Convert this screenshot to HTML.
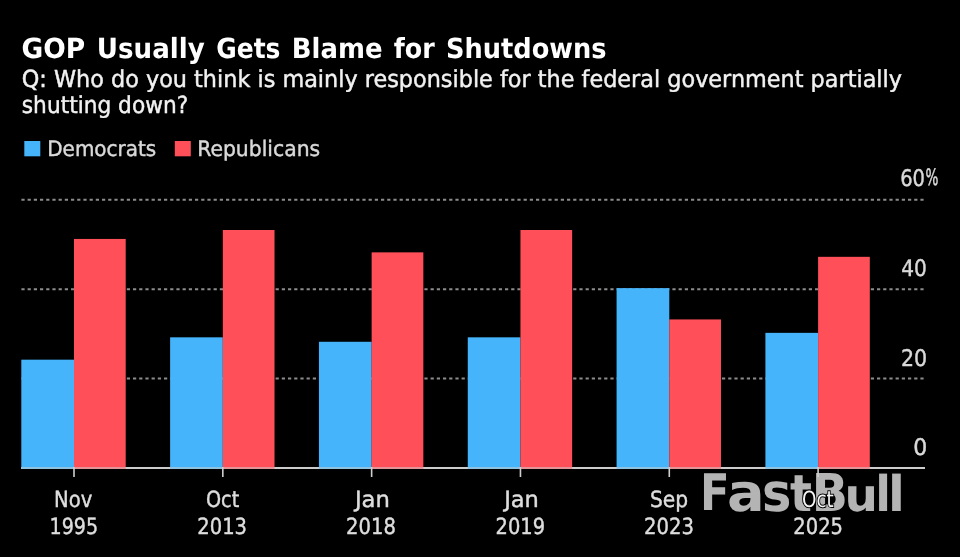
<!DOCTYPE html>
<html><head><meta charset="utf-8"><title>GOP Usually Gets Blame for Shutdowns</title>
<style>html,body{margin:0;padding:0;background:#000;width:960px;height:557px;overflow:hidden}svg{display:block;will-change:transform;text-rendering:geometricPrecision}</style>
</head><body>
<svg width="960" height="557" viewBox="0 0 960 557">
<rect width="960" height="557" fill="#000"/>
<rect x="24.3" y="141" width="16" height="15.3" fill="#45b4fa"/>
<rect x="174.8" y="141" width="16" height="15.3" fill="#ff505a"/>
<line x1="21.4" y1="378.57" x2="925" y2="378.57" stroke="#8c8c8c" stroke-width="2" stroke-dasharray="3.2 3"/><line x1="21.4" y1="289.13" x2="925" y2="289.13" stroke="#8c8c8c" stroke-width="2" stroke-dasharray="3.2 3"/><line x1="21.4" y1="199.70" x2="925" y2="199.70" stroke="#8c8c8c" stroke-width="2" stroke-dasharray="3.2 3"/>
<rect x="21.30" y="359.68" width="52.70" height="108.32" fill="#45b4fa"/><rect x="74.00" y="238.94" width="51.70" height="229.06" fill="#ff505a"/><rect x="170.12" y="337.32" width="52.70" height="130.68" fill="#45b4fa"/><rect x="222.82" y="230.00" width="51.70" height="238.00" fill="#ff505a"/><rect x="318.94" y="341.79" width="52.70" height="126.21" fill="#45b4fa"/><rect x="371.64" y="252.36" width="51.70" height="215.64" fill="#ff505a"/><rect x="467.76" y="337.32" width="52.70" height="130.68" fill="#45b4fa"/><rect x="520.46" y="230.00" width="51.70" height="238.00" fill="#ff505a"/><rect x="616.58" y="288.13" width="52.70" height="179.87" fill="#45b4fa"/><rect x="669.28" y="319.43" width="51.70" height="148.57" fill="#ff505a"/><rect x="765.40" y="332.85" width="52.70" height="135.15" fill="#45b4fa"/><rect x="818.10" y="256.83" width="51.70" height="211.17" fill="#ff505a"/>
<rect x="21" y="467" width="904" height="2" fill="#cccccc"/><rect x="21.30" y="467" width="52.70" height="2" fill="#45b4fa" opacity="0.45"/><rect x="74.00" y="467" width="51.70" height="2" fill="#ff505a" opacity="0.45"/><rect x="170.12" y="467" width="52.70" height="2" fill="#45b4fa" opacity="0.45"/><rect x="222.82" y="467" width="51.70" height="2" fill="#ff505a" opacity="0.45"/><rect x="318.94" y="467" width="52.70" height="2" fill="#45b4fa" opacity="0.45"/><rect x="371.64" y="467" width="51.70" height="2" fill="#ff505a" opacity="0.45"/><rect x="467.76" y="467" width="52.70" height="2" fill="#45b4fa" opacity="0.45"/><rect x="520.46" y="467" width="51.70" height="2" fill="#ff505a" opacity="0.45"/><rect x="616.58" y="467" width="52.70" height="2" fill="#45b4fa" opacity="0.45"/><rect x="669.28" y="467" width="51.70" height="2" fill="#ff505a" opacity="0.45"/><rect x="765.40" y="467" width="52.70" height="2" fill="#45b4fa" opacity="0.45"/><rect x="818.10" y="467" width="51.70" height="2" fill="#ff505a" opacity="0.45"/>
<g font-family="DejaVu Sans, sans-serif" font-weight="bold" font-size="50" fill="#b4b4b4"><text transform="matrix(0.8673 0 0 1.0096 699.92 509.80)">F</text><text transform="matrix(1.1171 0 0 1.0484 726.90 510.76)">a</text><text transform="matrix(0.9877 0 0 1.0623 761.94 510.75)">s</text><text transform="matrix(0.9188 0 0 1.0197 789.99 510.70)">t</text><text transform="matrix(0.9498 0 0 1.0425 811.64 510.70)">B</text><text transform="matrix(0.9385 0 0 0.9090 844.53 510.86)">u</text><text transform="matrix(0.9153 0 0 0.9845 875.36 510.70)">l</text><text transform="matrix(0.9840 0 0 0.9845 888.07 510.70)">l</text></g>
<line x1="74.00" y1="467" x2="74.00" y2="477" stroke="#cfcfcf" stroke-width="1.6"/><line x1="222.82" y1="467" x2="222.82" y2="477" stroke="#cfcfcf" stroke-width="1.6"/><line x1="371.64" y1="467" x2="371.64" y2="477" stroke="#cfcfcf" stroke-width="1.6"/><line x1="520.46" y1="467" x2="520.46" y2="477" stroke="#cfcfcf" stroke-width="1.6"/><line x1="669.28" y1="467" x2="669.28" y2="477" stroke="#cfcfcf" stroke-width="1.6"/><line x1="818.10" y1="467" x2="818.10" y2="477" stroke="#cfcfcf" stroke-width="1.6"/>
<text x="21.58" y="57.5" font-family="DejaVu Sans, sans-serif" font-weight="bold" font-size="27.8" fill="#ffffff" textLength="63.71" lengthAdjust="spacingAndGlyphs">GOP</text><text x="96.80" y="57.5" font-family="DejaVu Sans, sans-serif" font-weight="bold" font-size="27.8" fill="#ffffff" textLength="107.87" lengthAdjust="spacingAndGlyphs">Usually</text><text x="216.26" y="57.5" font-family="DejaVu Sans, sans-serif" font-weight="bold" font-size="27.8" fill="#ffffff" textLength="64.23" lengthAdjust="spacingAndGlyphs">Gets</text><text x="291.82" y="57.5" font-family="DejaVu Sans, sans-serif" font-weight="bold" font-size="27.8" fill="#ffffff" textLength="90.63" lengthAdjust="spacingAndGlyphs">Blame</text><text x="393.72" y="57.5" font-family="DejaVu Sans, sans-serif" font-weight="bold" font-size="27.8" fill="#ffffff" textLength="40.96" lengthAdjust="spacingAndGlyphs">for</text><text x="446.06" y="57.5" font-family="DejaVu Sans, sans-serif" font-weight="bold" font-size="27.8" fill="#ffffff" textLength="160.56" lengthAdjust="spacingAndGlyphs">Shutdowns</text><text x="21.75" y="86.6" font-family="DejaVu Sans, sans-serif" font-weight="normal" font-size="23.5" fill="#f2f2f2" textLength="880.22" lengthAdjust="spacingAndGlyphs" stroke="#f2f2f2" stroke-width="0.45">Q: Who do you think is mainly responsible for the federal government partially</text><text x="21.82" y="112.5" font-family="DejaVu Sans, sans-serif" font-weight="normal" font-size="23.5" fill="#f2f2f2" textLength="166.39" lengthAdjust="spacingAndGlyphs" stroke="#f2f2f2" stroke-width="0.45">shutting down?</text><text x="47.24" y="156.3" font-family="DejaVu Sans, sans-serif" font-weight="normal" font-size="21.3" fill="#d9d9d9" textLength="109.04" lengthAdjust="spacingAndGlyphs" stroke="#d9d9d9" stroke-width="0.45">Democrats</text><text x="197.20" y="156.3" font-family="DejaVu Sans, sans-serif" font-weight="normal" font-size="21.3" fill="#d9d9d9" textLength="122.99" lengthAdjust="spacingAndGlyphs" stroke="#d9d9d9" stroke-width="0.45">Republicans</text><text x="900.14" y="185.7" font-family="DejaVu Sans, sans-serif" font-weight="normal" font-size="22.8" fill="#d9d9d9" textLength="24.86" lengthAdjust="spacingAndGlyphs" stroke="#d9d9d9" stroke-width="0.45">60</text><text x="901.22" y="275.7" font-family="DejaVu Sans, sans-serif" font-weight="normal" font-size="22.8" fill="#d9d9d9" textLength="25.62" lengthAdjust="spacingAndGlyphs" stroke="#d9d9d9" stroke-width="0.45">40</text><text x="900.89" y="365.7" font-family="DejaVu Sans, sans-serif" font-weight="normal" font-size="22.8" fill="#d9d9d9" textLength="26.17" lengthAdjust="spacingAndGlyphs" stroke="#d9d9d9" stroke-width="0.45">20</text><text x="913.15" y="455.2" font-family="DejaVu Sans, sans-serif" font-weight="normal" font-size="22.8" fill="#d9d9d9" textLength="14.01" lengthAdjust="spacingAndGlyphs" stroke="#d9d9d9" stroke-width="0.45">0</text><text x="53.97" y="507.2" font-family="DejaVu Sans, sans-serif" font-weight="normal" font-size="22.3" fill="#dedede" textLength="38.31" lengthAdjust="spacingAndGlyphs" stroke="#dedede" stroke-width="0.45">Nov</text><text x="49.50" y="534.0" font-family="DejaVu Sans, sans-serif" font-weight="normal" font-size="22.3" fill="#dedede" textLength="48.67" lengthAdjust="spacingAndGlyphs" stroke="#dedede" stroke-width="0.45">1995</text><text x="205.92" y="507.2" font-family="DejaVu Sans, sans-serif" font-weight="normal" font-size="22.3" fill="#dedede" textLength="33.29" lengthAdjust="spacingAndGlyphs" stroke="#dedede" stroke-width="0.45">Oct</text><text x="197.32" y="534.0" font-family="DejaVu Sans, sans-serif" font-weight="normal" font-size="22.3" fill="#dedede" textLength="49.75" lengthAdjust="spacingAndGlyphs" stroke="#dedede" stroke-width="0.45">2013</text><text x="354.93" y="507.2" font-family="DejaVu Sans, sans-serif" font-weight="normal" font-size="22.3" fill="#dedede" textLength="35.00" lengthAdjust="spacingAndGlyphs" stroke="#dedede" stroke-width="0.45">Jan</text><text x="346.07" y="534.0" font-family="DejaVu Sans, sans-serif" font-weight="normal" font-size="22.3" fill="#dedede" textLength="49.77" lengthAdjust="spacingAndGlyphs" stroke="#dedede" stroke-width="0.45">2018</text><text x="504.17" y="507.2" font-family="DejaVu Sans, sans-serif" font-weight="normal" font-size="22.3" fill="#dedede" textLength="34.75" lengthAdjust="spacingAndGlyphs" stroke="#dedede" stroke-width="0.45">Jan</text><text x="495.57" y="534.0" font-family="DejaVu Sans, sans-serif" font-weight="normal" font-size="22.3" fill="#dedede" textLength="49.54" lengthAdjust="spacingAndGlyphs" stroke="#dedede" stroke-width="0.45">2019</text><text x="649.91" y="507.2" font-family="DejaVu Sans, sans-serif" font-weight="normal" font-size="22.3" fill="#dedede" textLength="38.19" lengthAdjust="spacingAndGlyphs" stroke="#dedede" stroke-width="0.45">Sep</text><text x="644.06" y="534.0" font-family="DejaVu Sans, sans-serif" font-weight="normal" font-size="22.3" fill="#dedede" textLength="50.01" lengthAdjust="spacingAndGlyphs" stroke="#dedede" stroke-width="0.45">2023</text><text x="802.07" y="507.2" font-family="DejaVu Sans, sans-serif" font-weight="normal" font-size="22.3" fill="#f4f4f4" textLength="31.77" lengthAdjust="spacingAndGlyphs" stroke="#000" stroke-width="2" paint-order="stroke">Oct</text><text x="793.27" y="534.0" font-family="DejaVu Sans, sans-serif" font-weight="normal" font-size="22.3" fill="#dedede" textLength="49.74" lengthAdjust="spacingAndGlyphs" stroke="#dedede" stroke-width="0.45">2025</text>
<text transform="matrix(0.5953 0 0 0.9858 925.55 185.28)" font-family="DejaVu Sans, sans-serif" font-size="22.8" fill="#d9d9d9" stroke="#d9d9d9" stroke-width="0.5">%</text>
</svg>
</body></html>
